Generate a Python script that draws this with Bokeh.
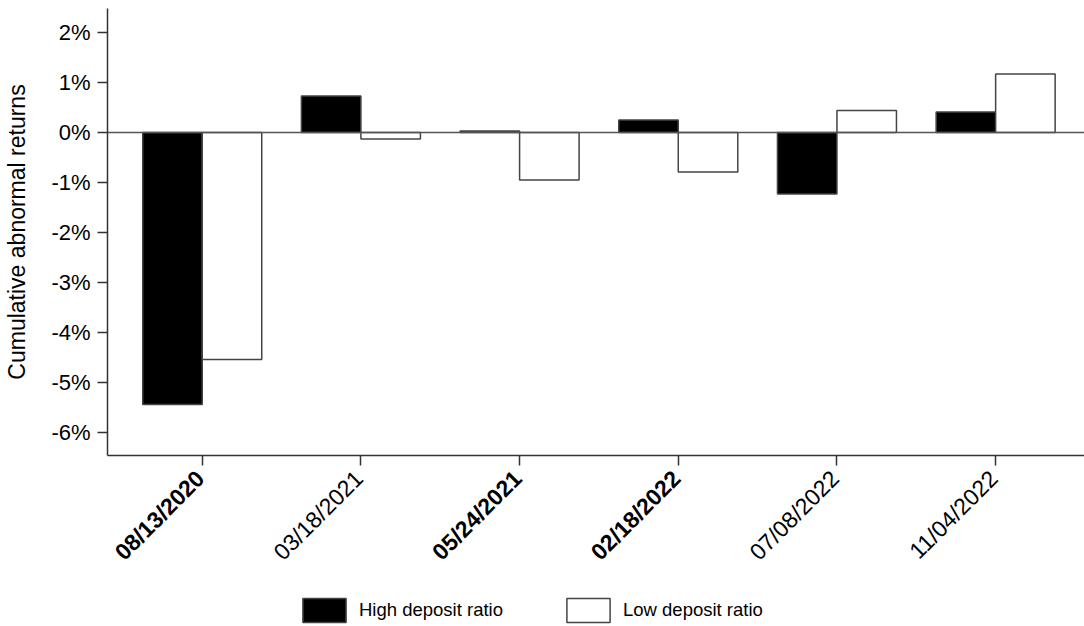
from math import pi
import numpy as np
from bokeh.plotting import figure
from bokeh.layouts import column
from bokeh.models import (Range1d, FixedTicker, Span, Legend, LegendItem,
                          ColumnDataSource)
from bokeh.core.properties import value
from bokeh.transform import dodge
from bokeh.embed import file_html
from bokeh.resources import INLINE

dates = ["08/13/2020", "03/18/2021", "05/24/2021", "02/18/2022", "07/08/2022", "11/04/2022"]
bold_dates = ["08/13/2020", "05/24/2021", "02/18/2022"]
high_deposit = [-5.44, 0.73, 0.03, 0.25, -1.23, 0.41]
low_deposit = [-4.54, -0.13, -0.95, -0.79, 0.44, 1.17]
y_ticks = [-6, -5, -4, -3, -2, -1, 0, 1, 2]
y_tick_labels = ["-6%", "-5%", "-4%", "-3%", "-2%", "-1%", "0%", "1%", "2%"]
series_names = ["High deposit ratio", "Low deposit ratio"]

FONT = "Liberation Sans"
Y0, Y1 = -6.46, 2.48
W = 1084
H_TOP = 466
H_BOTTOM = 626 - H_TOP

idx = list(range(len(dates)))
src = ColumnDataSource(dict(
    x=idx, date=dates, high=high_deposit, low=low_deposit,
    style=["bold" if d in bold_dates else "normal" for d in dates],
))
x_range = Range1d(-0.597, 5.56)

# ---------------- main chart ----------------
p = figure(width=W, height=H_TOP, x_range=x_range, y_range=Range1d(Y0, Y1),
           output_backend="svg", toolbar_location=None,
           min_border_left=107, min_border_right=0,
           min_border_top=8, min_border_bottom=11)
p.outline_line_color = None
p.xgrid.visible = False
p.ygrid.visible = False

high_style = dict(fill_color="black", line_color="#444444", line_width=1.5)
low_style = dict(fill_color="white", line_color="#444444", line_width=1.5)

p.vbar(x=dodge("x", -0.1875, range=x_range), top="high", width=0.375,
       source=src, **high_style)
p.vbar(x=dodge("x", 0.1875, range=x_range), top="low", width=0.375,
       source=src, **low_style)

p.add_layout(Span(location=0, dimension="width", line_color="#555555", line_width=1.5))

ya = p.yaxis[0]
ya.ticker = FixedTicker(ticks=y_ticks)
ya.major_label_overrides = dict(zip(y_ticks, y_tick_labels))
ya.axis_label = "Cumulative abnormal returns"
ya.axis_label_text_font = FONT
ya.axis_label_text_font_size = "23px"
ya.axis_label_text_font_style = "normal"
ya.axis_label_text_color = "black"
ya.axis_label_standoff = 18
ya.major_label_text_font = FONT
ya.major_label_text_font_size = "22px"
ya.major_label_text_color = "black"
ya.major_label_standoff = 7

xa = p.xaxis[0]
xa.ticker = FixedTicker(ticks=idx)
xa.major_label_overrides = {i: "" for i in idx}
xa.major_label_text_font_size = "1px"
xa.major_label_standoff = 0

for ax in (xa, ya):
    ax.axis_line_color = "#333333"
    ax.axis_line_width = 1.5
    ax.major_tick_line_color = "#333333"
    ax.major_tick_line_width = 1.5
    ax.major_tick_out = 10
    ax.major_tick_in = 0
    ax.minor_tick_line_color = None

# ---------------- tick labels + legend strip ----------------
q = figure(width=W, height=H_BOTTOM, x_range=x_range, y_range=Range1d(0, 1),
           output_backend="svg", toolbar_location=None,
           x_axis_location=None, y_axis_location=None,
           min_border_left=107, min_border_right=0,
           min_border_top=0, min_border_bottom=0)
q.outline_line_color = None
q.xgrid.visible = False
q.ygrid.visible = False

q.text(x="x", y=1, text="date", source=src, angle=pi / 4,
       text_align="right", text_baseline="middle",
       text_font=value(FONT), text_font_size=value("23px"),
       text_font_style="style", text_color="black",
       x_offset=-2, y_offset=8)

legend_src = ColumnDataSource(dict(x=np.array([np.nan]), top=np.array([np.nan])))
lh = q.vbar(x="x", top="top", width=0.375, source=legend_src, **high_style)
ll = q.vbar(x="x", top="top", width=0.375, source=legend_src, **low_style)

legend = Legend(items=[LegendItem(label=series_names[0], renderers=[lh]),
                       LegendItem(label=series_names[1], renderers=[ll])],
                location=(190, 1), orientation="horizontal",
                glyph_width=54, glyph_height=30, label_standoff=8, spacing=58,
                padding=0, margin=0, border_line_color=None,
                background_fill_alpha=0,
                label_text_font=FONT, label_text_font_size="18.5px",
                label_text_color="black")
q.add_layout(legend)

layout = column(p, q, spacing=0)
open("out.html", "w").write(file_html(layout, INLINE))
